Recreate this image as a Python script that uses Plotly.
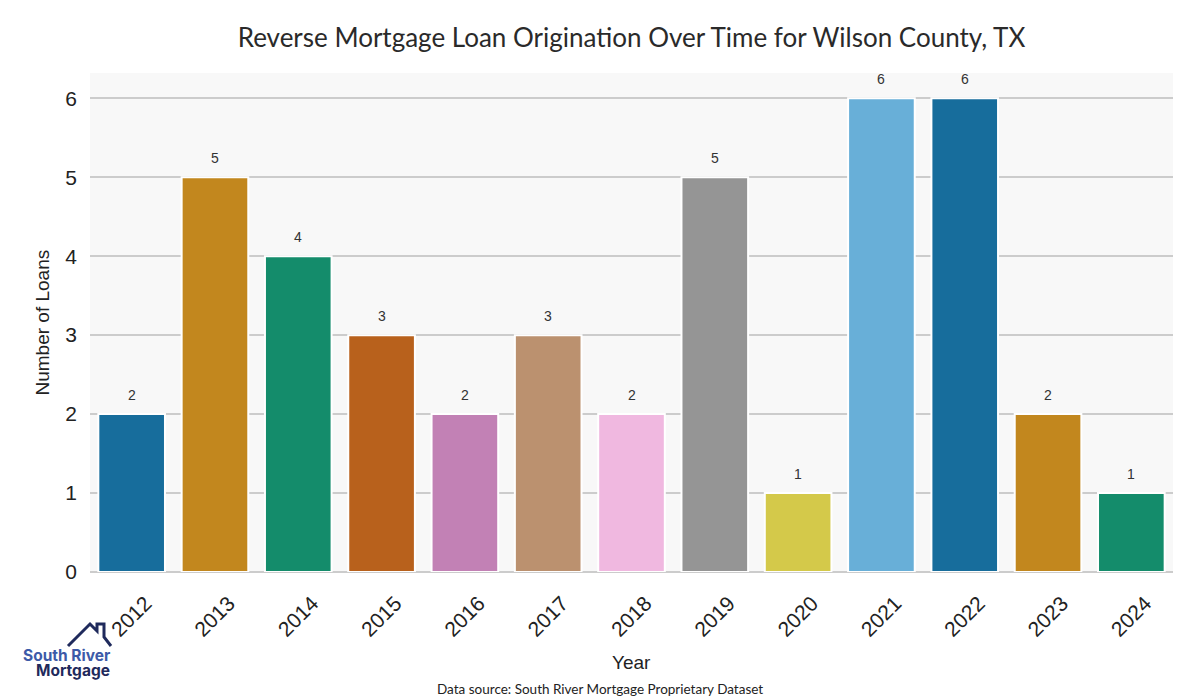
import plotly.graph_objects as go

years = [2012, 2013, 2014, 2015, 2016, 2017, 2018, 2019, 2020, 2021, 2022, 2023, 2024]
loans = [2, 5, 4, 3, 2, 3, 2, 5, 1, 6, 6, 2, 1]
colors = ["#176d9c", "#c2871e", "#148c6b", "#b8611c", "#c281b5", "#bb916f", "#f0b8e0",
          "#959595", "#d4c94a", "#68afd8", "#176d9c", "#c2871e", "#148c6b"]

W, H = 1200, 700
OFF = 8  # page body margin
ml, mr, mt, mb = 90 - OFF, 27 + OFF, 73 - OFF, 128 + OFF

fig = go.Figure()
fig.add_trace(go.Bar(
    x=years, y=loans,
    marker=dict(color=colors, line=dict(color="white", width=2)),
    width=0.8,
))

for yr, v in zip(years, loans):
    fig.add_annotation(x=yr, y=v, text=str(v), showarrow=False, yanchor="bottom",
                       yshift=9, font=dict(family="Liberation Sans, Arial", size=14, color="#333"))

fig.update_layout(
    width=W, height=H,
    margin=dict(l=ml, r=mr, t=mt, b=mb, autoexpand=False),
    paper_bgcolor="white",
    plot_bgcolor="#f8f8f8",
    showlegend=False,
    title=dict(text="Reverse Mortgage Loan Origination Over Time for Wilson County, TX",
               x=0.5, xref="paper", xanchor="center", y=1 - (38 - OFF) / H, yanchor="middle",
               font=dict(family="Lato, Inter", size=26, color="#2a2a2a")),
    font=dict(family="Liberation Sans, Arial", color="#222"),
)
fig.update_xaxes(
    automargin=False, range=[2011.5, 2024.5],
    tickvals=years, ticktext=[str(y) for y in years],
    tickangle=-45, tickfont=dict(size=21, color="#222"),
    ticklabelshift=14, ticklabelstandoff=14,
    showgrid=False, showline=False, ticks="", zeroline=False,
)
fig.update_yaxes(
    automargin=False,
    range=[0, 6.32], tickvals=[0, 1, 2, 3, 4, 5, 6],
    tickfont=dict(size=21, color="#222"),
    ticklabelstandoff=12,
    showgrid=True, gridcolor="#cccccc", gridwidth=1.5, zeroline=True, zerolinecolor="#cccccc",
    zerolinewidth=1.5, showline=False, ticks="",
)

# helpers: screen pixel -> paper coords
pw, ph = W - ml - mr, H - mt - mb
def px(x):
    return (x - OFF - ml) / pw
def py(y):
    return (H - mb - (y - OFF)) / ph

fig.add_annotation(xref="paper", yref="paper", x=0.5, y=py(662), yanchor="middle",
                   text="Year", showarrow=False,
                   font=dict(family="Liberation Sans, Arial", size=19, color="#222"))
fig.add_annotation(xref="paper", yref="paper", x=px(42), y=0.5, xanchor="center", yanchor="middle",
                   text="Number of Loans", showarrow=False, textangle=-90,
                   font=dict(family="Liberation Sans, Arial", size=19, color="#222"))
fig.add_annotation(xref="paper", yref="paper", x=px(600), y=py(689), yanchor="middle",
                   text="Data source: South River Mortgage Proprietary Dataset", showarrow=False,
                   font=dict(family="Lato, Inter", size=13.5, color="#222"))

fig.add_shape(type="path", xref="paper", yref="paper",
              path=("M {:.5f} {:.5f} L {:.5f} {:.5f} L {:.5f} {:.5f} L {:.5f} {:.5f} "
                    "L {:.5f} {:.5f} L {:.5f} {:.5f} L {:.5f} {:.5f}").format(
                  px(68), py(646), px(90), py(624), px(97), py(631), px(97), py(624),
                  px(104), py(624), px(104), py(637), px(111), py(646)),
              line=dict(color="#1f2a5c", width=3))
fig.add_annotation(xref="paper", yref="paper", x=px(67), y=py(655), text="<b>South River</b>",
                   showarrow=False, font=dict(family="Inter, Lato", size=15.5, color="#3d5aa8"),
                   xanchor="center", yanchor="middle")
fig.add_annotation(xref="paper", yref="paper", x=px(73), y=py(670), text="<b>Mortgage</b>",
                   showarrow=False, font=dict(family="Inter, Lato", size=15.5, color="#1f2a5c"),
                   xanchor="center", yanchor="middle")

fig.write_html("out.html")
